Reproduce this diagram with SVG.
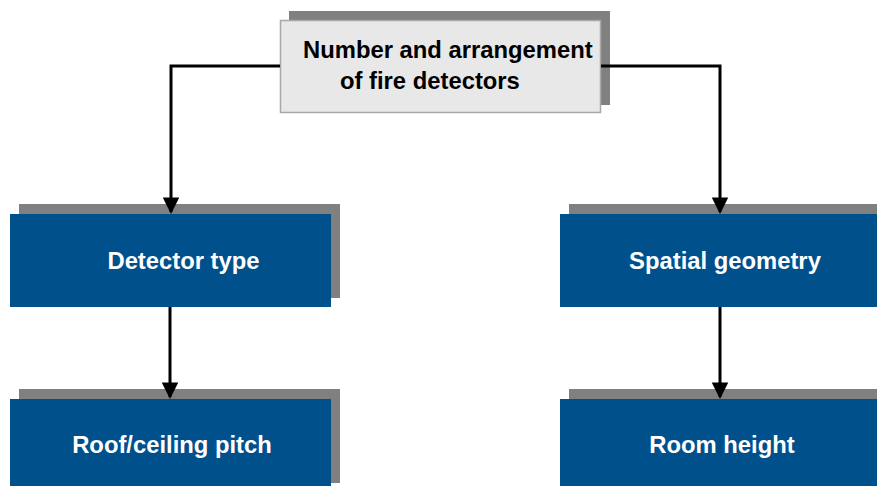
<svg xmlns="http://www.w3.org/2000/svg" width="877" height="486" viewBox="0 0 877 486">
<style>
.sh{fill:#808080}
.bx{fill:#00508c}
.top{fill:#e8e8e8;stroke:#a8a8a8;stroke-width:1.5}
.t{font-family:"Liberation Sans",Arial,sans-serif;font-weight:bold;font-size:23.8px}
.w{fill:#ffffff;text-anchor:middle}
.k{fill:#000000}
.c{fill:none;stroke:#000;stroke-width:3}
</style>
<defs>
<marker id="ah" markerWidth="5.5" markerHeight="5.5" refX="4.85" refY="2.75" orient="auto" markerUnits="strokeWidth">
<path d="M0,0 L5.5,2.75 L0,5.5 Z" fill="#000"/>
</marker>
</defs>
<rect width="877" height="486" fill="#fff"/>
<g id="top">
<rect class="sh" x="289" y="11" width="321" height="94"/>
<rect class="top" x="280.5" y="20.5" width="320" height="92"/>
<text class="t k" x="303" y="58">Number and arrangement</text>
<text class="t k" x="340" y="89">of fire detectors</text>
</g>
<g id="detector">
<rect class="sh" x="19" y="204" width="321" height="94"/>
<rect class="bx" x="10" y="214" width="321" height="93"/>
<text class="t w" x="183.5" y="269">Detector type</text>
</g>
<g id="spatial">
<rect class="sh" x="569" y="204" width="308" height="94"/>
<rect class="bx" x="560" y="214" width="317" height="93"/>
<text class="t w" x="725" y="269">Spatial geometry</text>
</g>
<g id="roof">
<rect class="sh" x="19" y="389" width="321" height="94"/>
<rect class="bx" x="10" y="399" width="321" height="87"/>
<text class="t w" x="172" y="453">Roof/ceiling pitch</text>
</g>
<g id="room">
<rect class="sh" x="569" y="389" width="308" height="94"/>
<rect class="bx" x="560" y="399" width="317" height="87"/>
<text class="t w" x="722" y="453">Room height</text>
</g>
<g id="connectors">
<polyline class="c" points="280,66 171,66 171,212" marker-end="url(#ah)"/>
<polyline class="c" points="601,66 720,66 720,212" marker-end="url(#ah)"/>
<line class="c" x1="170" y1="307" x2="170" y2="397" marker-end="url(#ah)"/>
<line class="c" x1="720" y1="307" x2="720" y2="397" marker-end="url(#ah)"/>
</g>
</svg>
